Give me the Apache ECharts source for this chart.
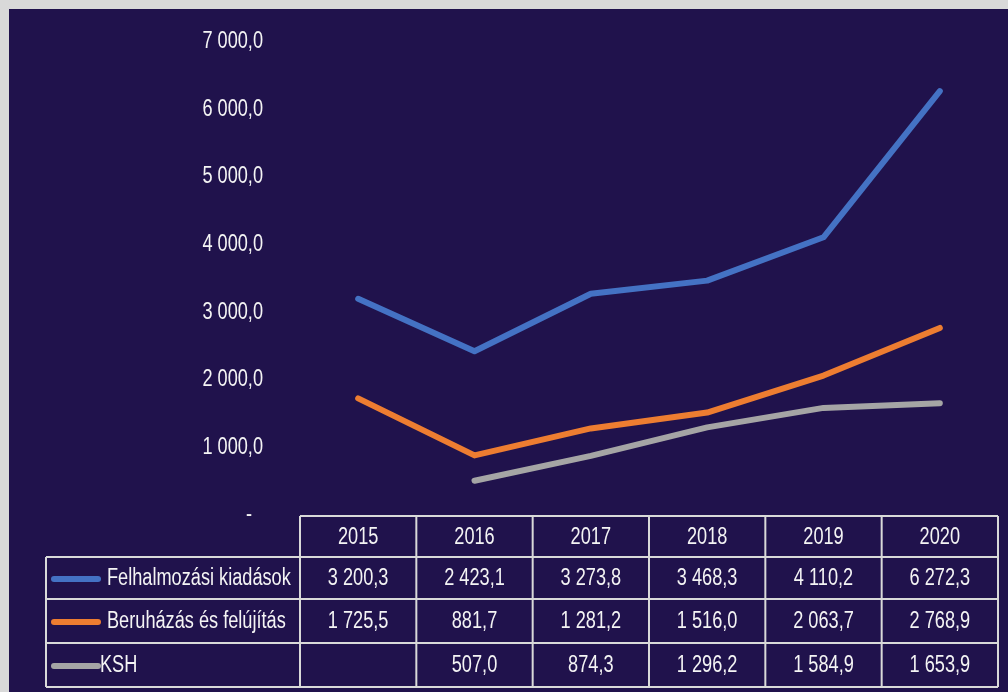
<!DOCTYPE html>
<html>
<head>
<meta charset="utf-8">
<script src="https://cdn.jsdelivr.net/npm/echarts@6/dist/echarts.min.js"></script>
<style>
  html, body { margin: 0; padding: 0; background: #d9d9d9; width: 1008px; height: 692px; overflow: hidden; }
  #chart { position: absolute; left: 9px; top: 9px; width: 999px; height: 683px; }
</style>
</head>
<body>
<div id="chart"></div>
<script>
const years = ['2015', '2016', '2017', '2018', '2019', '2020'];
const seriesNames = ['Felhalmozási kiadások', 'Beruházás és felújítás', 'KSH'];
const felhalmozasi = [3200.3, 2423.1, 3273.8, 3468.3, 4110.2, 6272.3];
const beruhazas = [1725.5, 881.7, 1281.2, 1516.0, 2063.7, 2768.9];
const ksh = [null, 507.0, 874.3, 1296.2, 1584.9, 1653.9];
const yTicks = [0, 1000, 2000, 3000, 4000, 5000, 6000, 7000];

const colors = ['#4472C4', '#ED7D31', '#A5A5A5'];
const FONT = "'Liberation Sans', Arial, sans-serif";
const FSIZE = 23;
const SX = 0.79;
const TXT = '#f4f4f4';
const BORDER = '#d9d9d9';

function fmt(v) {
  if (v === null || v === undefined) return '';
  if (v === 0) return '-';
  const parts = v.toFixed(1).split('.');
  const intPart = parts[0].replace(/\B(?=(\d{3})+(?!\d))/g, ' ');
  return intPart + ',' + parts[1];
}

const allSeries = [felhalmozasi, beruhazas, ksh];

const chart = echarts.init(document.getElementById('chart'), null, { renderer: 'canvas' });

const option = {
  backgroundColor: '#20124c',
  animation: false,
  grid: { left: 291, right: 10, top: 33, bottom: 177, containLabel: false },
  xAxis: {
    type: 'category',
    data: years,
    boundaryGap: true,
    axisLine: { show: false },
    axisTick: { show: false },
    axisLabel: { show: false },
    splitLine: { show: false }
  },
  yAxis: {
    type: 'value',
    min: yTicks[0],
    max: yTicks[yTicks.length - 1],
    interval: 1000,
    axisLine: { show: false },
    axisTick: { show: false },
    splitLine: { show: false },
    axisLabel: { show: false }
  },
  series: allSeries.map((d, i) => ({
    name: seriesNames[i],
    type: 'line',
    data: d,
    smooth: false,
    showSymbol: false,
    symbol: 'none',
    connectNulls: false,
    lineStyle: { color: colors[i], width: 6, cap: 'round', join: 'round' },
    itemStyle: { color: colors[i] },
    z: 3 - i
  }))
};

chart.setOption(option);

function txt(x, y, t, align) {
  return {
    type: 'text',
    x: x, y: y, scaleX: SX,
    style: {
      x: 0, y: 0, text: t, fill: TXT, font: FSIZE + 'px ' + FONT,
      align: align || 'center', verticalAlign: 'middle'
    }
  };
}

function buildTable() {
  const centers = years.map((_, i) => chart.convertToPixel({ xAxisIndex: 0 }, i));
  const step = centers[1] - centers[0];
  const colLeft = centers[0] - step / 2;
  const colRight = centers[centers.length - 1] + step / 2;
  const yTop = chart.convertToPixel({ yAxisIndex: 0 }, 0);
  const rows = [yTop + 1, yTop + 42, yTop + 84, yTop + 128, yTop + 172];
  const legendLeft = 37;

  const els = [];
  yTicks.forEach(v => {
    const py = chart.convertToPixel({ yAxisIndex: 0 }, v);
    if (v === 0) els.push(txt(243, py, '-', 'right'));
    else els.push(txt(254, py, fmt(v), 'right'));
  });

  const lineStyle = { stroke: BORDER, lineWidth: 2 };
  els.push({ type: 'line', shape: { x1: colLeft, y1: rows[0], x2: colRight, y2: rows[0] }, style: lineStyle });
  for (let r = 1; r < rows.length; r++) {
    els.push({ type: 'line', shape: { x1: legendLeft, y1: rows[r], x2: colRight, y2: rows[r] }, style: lineStyle });
  }
  for (let i = 0; i <= years.length; i++) {
    const x = colLeft + i * step;
    els.push({ type: 'line', shape: { x1: x, y1: rows[0], x2: x, y2: rows[4] }, style: lineStyle });
  }
  els.push({ type: 'line', shape: { x1: legendLeft, y1: rows[1], x2: legendLeft, y2: rows[4] }, style: lineStyle });

  years.forEach((yr, i) => {
    els.push(txt(centers[i], (rows[0] + rows[1]) / 2 + 1, yr));
  });
  allSeries.forEach((d, r) => {
    const cy = (rows[r + 1] + rows[r + 2]) / 2 + 1;
    d.forEach((v, i) => {
      const t = fmt(v);
      if (t) els.push(txt(centers[i], cy, t));
    });
    els.push({
      type: 'line',
      shape: { x1: legendLeft + 8, y1: cy, x2: legendLeft + 52, y2: cy },
      style: { stroke: colors[r], lineWidth: 6, lineCap: 'round' }
    });
    const tx = r === 2 ? legendLeft + 54 : legendLeft + 61;
    els.push(txt(tx, cy, seriesNames[r], 'left'));
  });

  chart.setOption({ graphic: { elements: els } });
}

buildTable();
</script>
</body>
</html>
